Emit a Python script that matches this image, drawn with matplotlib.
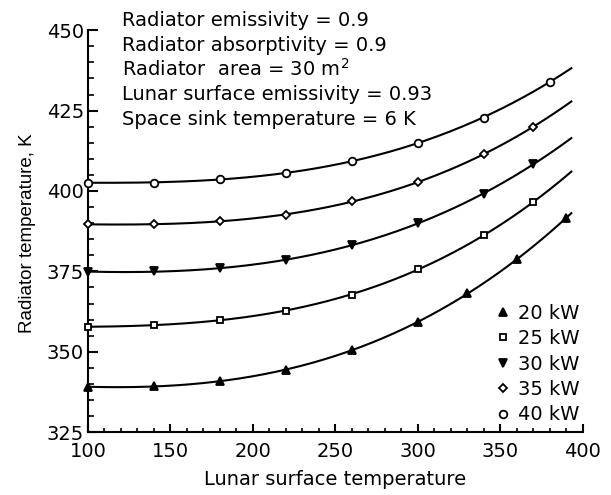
import numpy as np
import matplotlib
matplotlib.use("Agg")
import matplotlib.pyplot as plt
from matplotlib.ticker import MultipleLocator

plt.rcParams['font.family'] = ['DejaVu Sans']
plt.rcParams['mathtext.fontset'] = 'dejavusans'

# data (lunar surface temperature vs radiator temperature)
x_20 = [100, 140, 180, 220, 260, 300, 330, 360, 390]
t_20 = [339.0, 339.4, 340.9, 344.3, 350.4, 359.3, 368.2, 378.8, 391.6]

x_25 = [100, 140, 180, 220, 260, 300, 340, 370]
t_25 = [357.7, 358.4, 359.8, 362.8, 367.8, 375.6, 386.4, 396.5]

x_30 = [100, 140, 180, 220, 260, 300, 340, 370]
t_30 = [374.9, 375.0, 375.9, 378.5, 383.3, 390.0, 399.1, 408.4]

x_35 = [100, 140, 180, 220, 260, 300, 340, 370]
t_35 = [389.6, 389.7, 390.6, 392.6, 396.8, 402.7, 411.5, 420.0]

x_40 = [100, 140, 180, 220, 260, 300, 340, 380]
t_40 = [402.6, 402.6, 403.6, 405.6, 409.3, 415.0, 422.8, 434.0]

labels = ["20 kW", "25 kW", "30 kW", "35 kW", "40 kW"]
markers = ["^", "s", "v", "D", "o"]
msizes = [6, 4.5, 6, 4.5, 5.5]
fills = ["black", "white", "black", "white", "white"]

notes = [
    "Radiator emissivity = 0.9",
    "Radiator absorptivity = 0.9",
    r"Radiator  area = 30 m$^{\mathrm{2}}$",
    "Lunar surface emissivity = 0.93",
    "Space sink temperature = 6 K",
]

fig = plt.figure(figsize=(6.11, 4.95), dpi=100)
ax = fig.add_axes([0.144, 0.127, 0.810, 0.812])

series = [(x_20, t_20), (x_25, t_25), (x_30, t_30), (x_35, t_35), (x_40, t_40)]
xs_line = np.linspace(100, 393, 200)
for (xv, tv), lab, m, ms, fc in zip(series, labels, markers, msizes, fills):
    # smooth fitted curve through the read points
    coef = np.polyfit(xv, tv, 3)
    ax.plot(xs_line, np.polyval(coef, xs_line), color="black", lw=1.5, zorder=2)
    ax.plot(xv, tv, linestyle="none", marker=m, ms=ms, mfc=fc, mec="black",
            mew=1.3, label=lab, zorder=3, clip_on=False)

ax.set_xlim(100, 400)
ax.set_ylim(325, 450)
ax.xaxis.set_major_locator(MultipleLocator(50))
ax.xaxis.set_minor_locator(MultipleLocator(10))
ax.yaxis.set_major_locator(MultipleLocator(25))
ax.yaxis.set_minor_locator(MultipleLocator(5))

for s in ["top", "right"]:
    ax.spines[s].set_visible(False)
for s in ["left", "bottom"]:
    ax.spines[s].set_linewidth(1.5)

ax.tick_params(axis="both", which="both", direction="in", labelsize=14)
ax.tick_params(axis="y", which="major", length=7, width=1.5, pad=3)
ax.tick_params(axis="y", which="minor", length=4, width=1.2)
ax.tick_params(axis="x", which="major", length=6, width=1.5, pad=7)
ax.tick_params(axis="x", which="minor", length=3, width=1.2)

ax.set_xlabel("Lunar surface temperature", fontsize=14)
ax.set_ylabel("Radiator temperature, K", fontsize=13.5, family="Liberation Sans")
ax.yaxis.set_label_coords(-0.105, 0.495)
ax.xaxis.set_label_coords(0.5, -0.095)

for i, line in enumerate(notes):
    fig.text(0.199, 0.947 - i * 0.0499, line, fontsize=14, va="baseline", ha="left")

ax.legend(loc="lower right", bbox_to_anchor=(1.01, 0.0), frameon=False,
          fontsize=14, handletextpad=0.3, labelspacing=0.33, borderaxespad=0.0,
          handlelength=1.0)

fig.savefig("out.png", dpi=100)
